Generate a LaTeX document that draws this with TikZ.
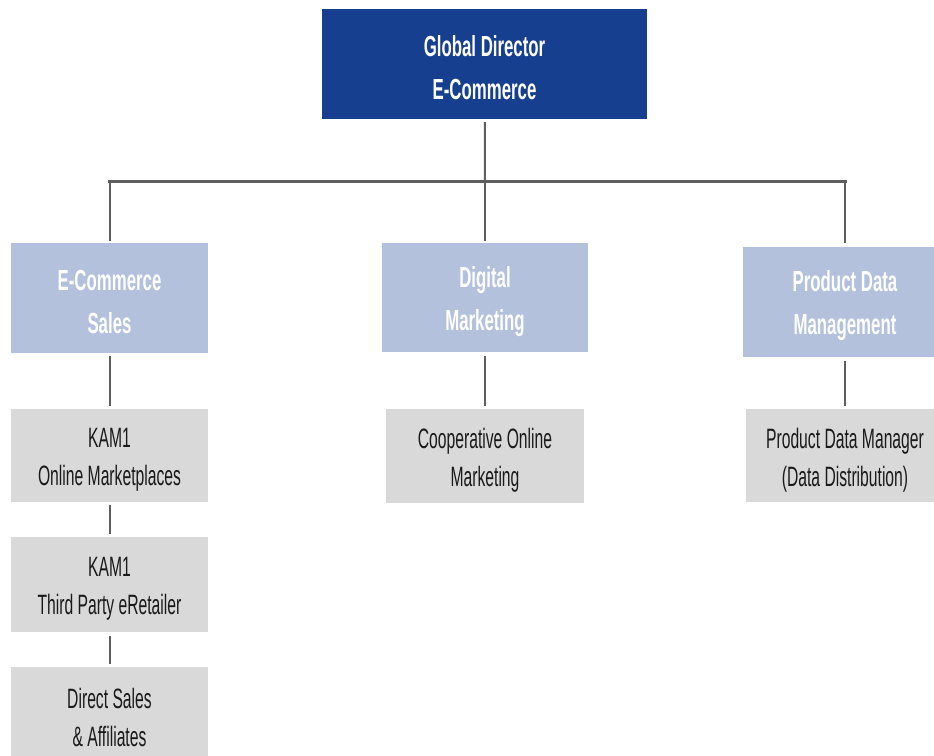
\documentclass[tikz,border=0pt]{standalone}
\usepackage{fontspec}
\newfontfamily\headfont[FakeStretch=0.58]{Liberation Sans}
\newfontfamily\rolefont[FakeStretch=0.56]{Liberation Sans}
\definecolor{headblue}{HTML}{173F8F}
\definecolor{deptblue}{HTML}{B3C1DD}
\definecolor{rolegrey}{HTML}{D9D9D9}
\definecolor{linegrey}{HTML}{5E5E5E}
\definecolor{roletext}{HTML}{1A1A1A}
\begin{document}
\begin{tikzpicture}[x=1pt,y=-1pt,
  box/.style={rectangle, inner sep=0pt, anchor=center},
  head/.style={box, fill=headblue},
  dept/.style={box, fill=deptblue},
  role/.style={box, fill=rolegrey},
  lbl/.style={inner sep=0pt, align=center, yshift=-4pt},
  headtext/.style={lbl, text=white, font=\headfont\bfseries\fontsize{29}{43}\selectfont},
  roletext/.style={lbl, text=roletext, font=\rolefont\fontsize{28}{38}\selectfont},
  link/.style={draw=linegrey, line width=2pt},
  bus/.style={draw=linegrey, line width=3pt, line cap=rect}
]
\useasboundingbox (0,0) rectangle (934,755);
\clip (0,0) rectangle (934,755);

% director
\node[head, minimum width=325pt, minimum height=110pt] (gd) at (484.5,64) {};
\node[headtext] (gd-t) at (gd.center) {Global Director\\E-Commerce};

% departments
\node[dept, minimum width=197pt, minimum height=110pt] (ecs) at (109.5,298) {};
\node[dept, minimum width=206pt, minimum height=109pt] (dm) at (485,297.8) {};
\node[dept, minimum width=204pt, minimum height=110pt] (pdm) at (845,301.7) {};
\node[headtext] (ecs-t) at (ecs.center) {E-Commerce\\Sales};
\node[headtext] (dm-t) at (dm.center) {Digital\\Marketing};
\node[headtext] (pdm-t) at (pdm.center) {Product Data\\Management};

% roles
\node[role, minimum width=197pt, minimum height=93pt] (kamom) at (109.5,455.7) {};
\node[role, minimum width=197pt, minimum height=95.6pt] (kamtp) at (109.5,584.5) {};
\node[role, minimum width=197pt, minimum height=93pt] (dsa) at (109.5,713.5) {};
\node[role, minimum width=198pt, minimum height=93.4pt] (coop) at (485,456) {};
\node[role, minimum width=198pt, minimum height=93pt] (pdmgr) at (845,455.8) {};
\node[roletext] (kamom-t) at (kamom.center) {KAM1\\Online Marketplaces};
\node[roletext] (kamtp-t) at (kamtp.center) {KAM1\\Third Party eRetailer};
\node[roletext] (dsa-t) at (dsa.center) {Direct Sales\\\& Affiliates};
\node[roletext] (coop-t) at (coop.center) {Cooperative Online\\Marketing};
\node[roletext] (pdmgr-t) at (pdmgr.center) {Product Data Manager\\(Data Distribution)};

% connectors
\coordinate (junction) at (485,181.5);
\draw[bus] (ecs.north |- junction) -- (pdm.north |- junction);
\draw[link, shorten <=3pt] (gd) -- (junction);
\draw[link] (junction) -- ([yshift=2pt]dm.north);
\draw[link] (ecs.north |- junction) -- ([yshift=2pt]ecs.north);
\draw[link] (pdm.north |- junction) -- ([yshift=4pt]pdm.north);
\draw[link, shorten <=3pt, shorten >=3pt] (ecs) -- (kamom);
\draw[link, shorten <=3pt, shorten >=3pt] (kamom) -- (kamtp);
\draw[link, shorten <=3pt, shorten >=3pt] (kamtp) -- (dsa);
\draw[link, shorten <=3pt, shorten >=3pt] (dm) -- (coop);
\draw[link, shorten <=4pt, shorten >=3pt] (pdm) -- (pdmgr);
\end{tikzpicture}
\end{document}
